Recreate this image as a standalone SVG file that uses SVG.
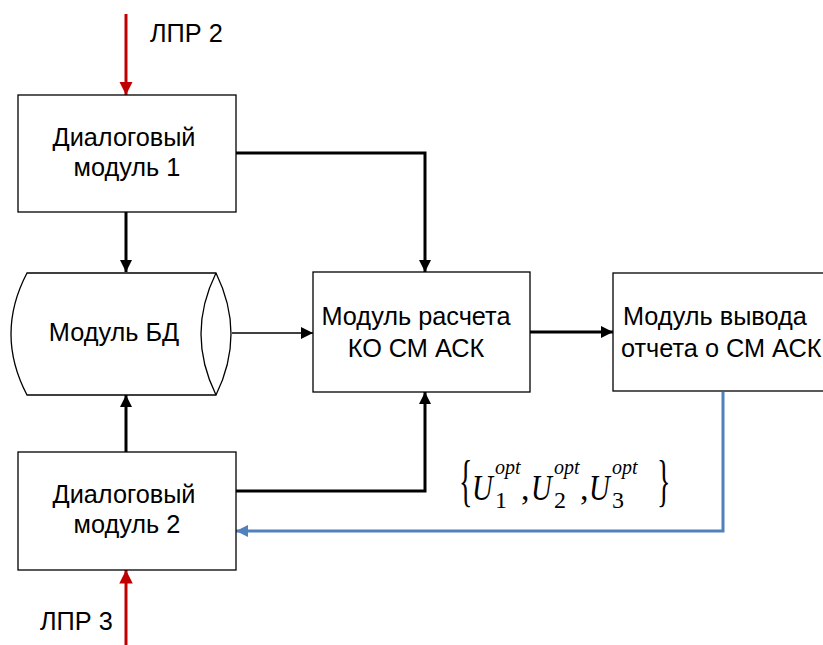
<svg xmlns="http://www.w3.org/2000/svg" width="823" height="645" viewBox="0 0 823 645">
  <style>
    .box { fill: #fff; stroke: #000; stroke-width: 1.3; }
    .lbl { font-family: "Liberation Sans", Arial, sans-serif; font-size: 25.3px; fill: #000; }
    .thick { fill: none; stroke: #000; stroke-width: 3; }
    .thin { fill: none; stroke: #000; stroke-width: 1.5; }
    .red { fill: none; stroke: #c00000; stroke-width: 3; }
    .blue { fill: none; stroke: #4f81bd; stroke-width: 3; }
    .math { font-family: "Liberation Serif", "Times New Roman", serif; fill: #000; }
    .u { font-size: 36px; font-style: italic; }
    .sup { font-size: 20px; font-style: italic; }
    .sub { font-size: 24px; }
    .comma { font-size: 34px; }
  </style>
  <defs>
    <marker id="ah" viewBox="0 0 10 10" refX="10" refY="5" markerWidth="4" markerHeight="4" orient="auto" markerUnits="strokeWidth">
      <path d="M0,0 L10,5 L0,10 z" fill="#000"/>
    </marker>
    <marker id="ahThin" viewBox="0 0 10 10" refX="10" refY="5" markerWidth="8" markerHeight="8" orient="auto" markerUnits="strokeWidth">
      <path d="M0,0 L10,5 L0,10 z" fill="#000"/>
    </marker>
    <marker id="ahRed" viewBox="0 0 10 10" refX="10" refY="5" markerWidth="4.5" markerHeight="4.5" orient="auto" markerUnits="strokeWidth">
      <path d="M0,0 L10,5 L0,10 z" fill="#c00000"/>
    </marker>
    <marker id="ahBlue" viewBox="0 0 10 10" refX="10" refY="5" markerWidth="4" markerHeight="4" orient="auto" markerUnits="strokeWidth">
      <path d="M0,0 L10,5 L0,10 z" fill="#4f81bd"/>
    </marker>
  </defs>

  <rect width="823" height="645" fill="#fff"/>

  <g id="connectors">
    <path class="red" d="M126,14 V95" marker-end="url(#ahRed)"/>
    <path class="red" d="M126,645 V570" marker-end="url(#ahRed)"/>
    <path class="thick" d="M126,212 V272" marker-end="url(#ah)"/>
    <path class="thick" d="M236,153 H425 V272" marker-end="url(#ah)"/>
    <path class="thin" d="M232,333 H313" marker-end="url(#ahThin)"/>
    <path class="thick" d="M530,332 H613" marker-end="url(#ah)"/>
    <path class="thick" d="M126,452 V395" marker-end="url(#ah)"/>
    <path class="thick" d="M236,491 H425 V392" marker-end="url(#ah)"/>
    <path class="blue" d="M723,392 V531 H236" marker-end="url(#ahBlue)"/>
  </g>

  <g id="lpr2">
    <text class="lbl" x="150" y="42">ЛПР 2</text>
  </g>
  <g id="lpr3">
    <text class="lbl" x="40" y="630">ЛПР 3</text>
  </g>

  <g id="dialog1">
    <rect class="box" x="18" y="95" width="218" height="117"/>
    <text class="lbl" text-anchor="middle" x="124" y="146">Диалоговый</text>
    <text class="lbl" text-anchor="middle" x="127" y="176">модуль 1</text>
  </g>

  <g id="db">
    <path class="box" d="M27,273 H216 Q246,334 216,395 H27 Q-5,334 27,273 z"/>
    <path class="box" d="M216,273 Q186,334 216,395"/>
    <text class="lbl" text-anchor="middle" x="114" y="341">Модуль БД</text>
  </g>

  <g id="calc">
    <rect class="box" x="313" y="272" width="217" height="120"/>
    <text class="lbl" text-anchor="middle" x="416" y="325">Модуль расчета</text>
    <text class="lbl" text-anchor="middle" x="416" y="357">КО СМ АСК</text>
  </g>

  <g id="report">
    <rect class="box" x="613" y="273" width="220" height="118"/>
    <text class="lbl" x="623" y="325">Модуль вывода</text>
    <text class="lbl" x="621" y="357">отчета о СМ АСК</text>
  </g>

  <g id="dialog2">
    <rect class="box" x="18" y="452" width="218" height="118"/>
    <text class="lbl" text-anchor="middle" x="124" y="503">Диалоговый</text>
    <text class="lbl" text-anchor="middle" x="127" y="533">модуль 2</text>
  </g>

  <!-- set {U1opt, U2opt, U3opt} -->
  <g id="formula" class="math">
    <text x="0" y="0" font-size="56" transform="translate(459 500) scale(0.5 1)">{</text>
    <text class="u" x="0" y="0" transform="translate(472 500) scale(0.8 1)">U</text>
    <text class="sup" x="495" y="474">opt</text>
    <text class="sub" x="495" y="508">1</text>
    <text class="comma" x="521" y="500">,</text>
    <text class="u" x="0" y="0" transform="translate(531 500) scale(0.8 1)">U</text>
    <text class="sup" x="554" y="474">opt</text>
    <text class="sub" x="554" y="508">2</text>
    <text class="comma" x="580" y="500">,</text>
    <text class="u" x="0" y="0" transform="translate(589 500) scale(0.8 1)">U</text>
    <text class="sup" x="612" y="474">opt</text>
    <text class="sub" x="612" y="508">3</text>
    <text x="0" y="0" font-size="56" transform="translate(657 500) scale(0.5 1)">}</text>
  </g>
</svg>
